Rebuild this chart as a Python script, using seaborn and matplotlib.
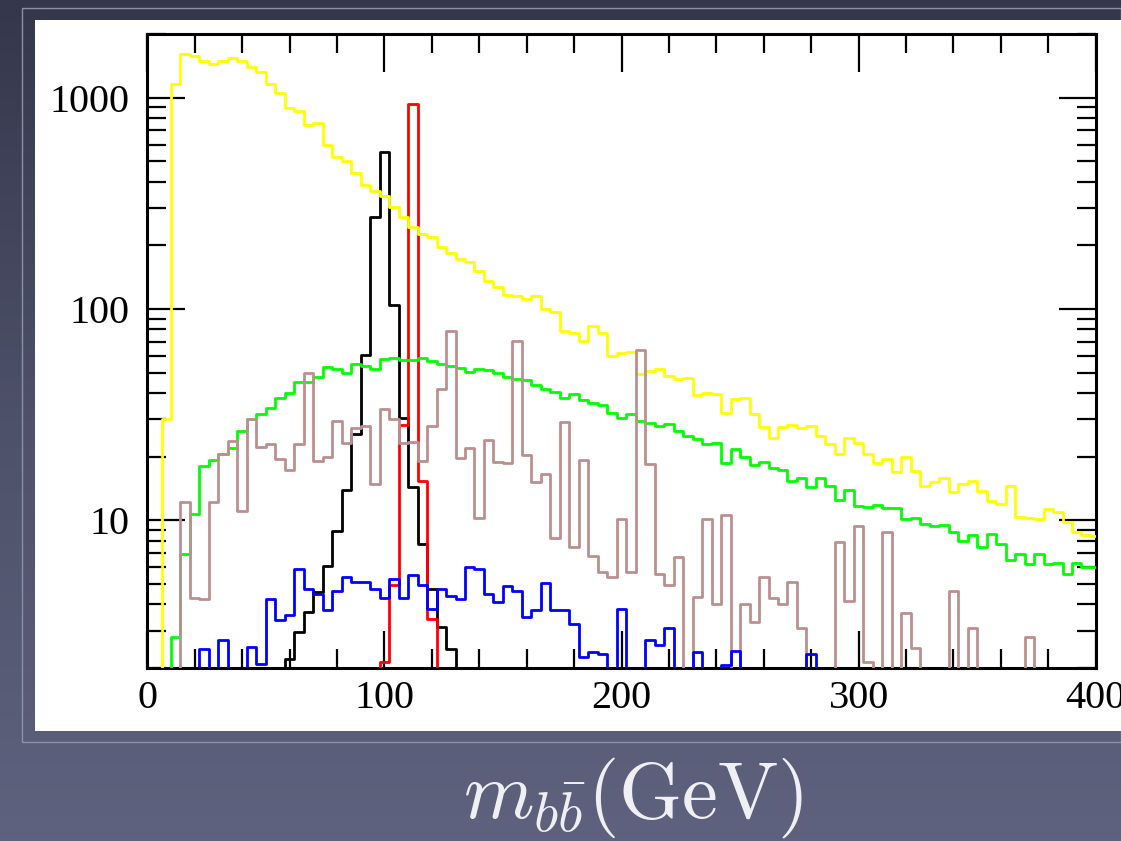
import numpy as np
import matplotlib
matplotlib.use("Agg")
import matplotlib.pyplot as plt
import seaborn as sns
from matplotlib.colors import LinearSegmentedColormap
from matplotlib.patches import Rectangle
from matplotlib.ticker import FixedLocator, MultipleLocator, LogLocator, FuncFormatter, NullFormatter

# ---------------- data (bin centres in GeV, bin width 4 GeV) ----------------
mass_centers = np.arange(0, 401, 4)

yellow_counts = [
    0, 0, 30, 1160, 1600, 1580, 1490, 1450, 1490, 1545,
    1490, 1390, 1320, 1160, 1050, 897, 865, 745, 758, 595,
    525, 502, 438, 386, 363, 343, 304, 272, 245, 227,
    220, 197, 184, 172, 166, 152, 136, 127, 116, 115,
    111, 115, 99.5, 96.4, 78.3, 77, 70.3, 82.8, 76.8, 59.7,
    62, 62.5, 49, 50.8, 51.8, 48.4, 46.4, 47.2, 39, 40.1,
    39.4, 32.1, 37.3, 38, 31.7, 27.7, 24.6, 27.5, 28.2, 27.2,
    27.9, 25, 22.9, 20.5, 24.4, 23.2, 20.5, 18.6, 19.5, 16.9,
    20, 17.1, 14.6, 15.2, 15.8, 13.6, 14.8, 15.4, 13.8, 12.4,
    11.9, 14.5, 10.4, 10.3, 10.1, 11.3, 11, 9.8, 8.8, 8.5,
    8.4]

green_counts = [
    0, 0, 0, 2.8, 6.9, 10.7, 18.1, 19.2, 20.5, 22.1,
    26.5, 30.3, 31.7, 34.1, 38, 40.1, 45.1, 45, 47.5, 53.2,
    52, 49.9, 55.1, 53.6, 51.9, 58.1, 58.3, 57.2, 57.6, 58.5,
    56.6, 54.6, 53.6, 52.7, 50.2, 51.9, 51.3, 49.5, 47.8, 46.4,
    46, 43.9, 41.6, 40.4, 38, 39.8, 37.1, 36, 35, 32.1,
    30.6, 31.8, 29.5, 29, 27.9, 28.5, 26.5, 25.1, 24.2, 22.9,
    23.2, 18.6, 21.7, 20, 18.3, 18.8, 17.6, 17.3, 15.4, 15.8,
    14.4, 15.8, 14.5, 12.5, 13.9, 11.7, 11.5, 11.8, 11.4, 11.4,
    10.1, 10.2, 9.6, 9.4, 9.5, 8.8, 8.0, 8.5, 7.5, 8.6,
    7.7, 6.5, 6.9, 6.2, 6.9, 6.2, 6.3, 5.6, 6.3, 6.0,
    6.0]

brown_counts = [
    0, 0, 0, 0, 12.2, 4.28, 4.22, 12.2, 20.5, 23.7,
    11.1, 30, 22.3, 22.9, 19.5, 17.3, 22.9, 49.5, 19.1, 20,
    29.5, 23.2, 27.2, 27.9, 14.8, 33.6, 30, 23.2, 23.5, 19.1,
    27.9, 42, 78.3, 19.8, 21.9, 10.3, 24, 18.8, 18.6, 70.3,
    20.3, 15.2, 16.5, 8.2, 29.2, 7.5, 19.3, 6.8, 5.7, 5.4,
    10.1, 5.7, 63.8, 18.4, 5.6, 4.92, 6.7, 0, 4.34, 10.1,
    4.03, 10.6, 0, 4.03, 3.3, 5.4, 4.3, 4.03, 5.13, 3.1,
    0, 0, 0, 7.9, 4.13, 9.4, 2.14, 0, 8.8, 0,
    3.66, 2.49, 0, 0, 0, 4.65, 0, 3.1, 0, 0,
    0, 0, 0, 2.8, 0, 0, 0, 0, 0, 0,
    0]

black_counts = (
    [0] * 15
    + [2.2, 2.96, 3.68, 4.6, 6.1, 8.9, 13.9, 25.5, 60.8, 273,
       554, 104, 30.6, 14.3, 7.7, 4.74, 3.13, 2.47]
    + [0] * 68)

red_counts = (
    [0] * 25
    + [2.14, 4.92, 28.2, 929, 15.4, 3.42]
    + [0] * 70)

blue_counts = (
    [0] * 6
    + [2.47, 0, 2.7, 0, 0, 2.52, 2.1, 4.25, 3.36, 3.57,
       5.85, 4.71, 4.49, 3.78, 4.65, 5.38, 5.13, 5.13, 4.71, 4.3,
       5.28, 4.3, 5.48, 4.96, 3.82, 4.71, 4.4, 4.25, 6.0, 5.9,
       4.49, 4.1, 4.89, 4.65, 3.49, 3.75, 5.06, 3.75, 3.75, 3.24,
       2.26, 2.38, 2.32, 0, 3.82, 0, 0, 2.7, 2.56, 3.1,
       0, 0, 2.38, 0, 0, 2.07, 2.41, 0, 0, 0]
    + [0, 0, 0, 0, 2.34]
    + [0] * 30)

x_ticks = [0, 100, 200, 300, 400]
x_label = r"$m_{b\bar{b}}(\mathrm{GeV})$"

# ---------------- figure ----------------
sns.set_style("ticks")
plt.rcParams["font.family"] = ["Liberation Serif", "DejaVu Serif"]
plt.rcParams["mathtext.fontset"] = "cm"

W, H = 1121, 841
fig = plt.figure(figsize=(W / 100, H / 100), dpi=100)

# slide background gradient
bg = fig.add_axes([0, 0, 1, 1], zorder=-10)
grad = np.linspace(0, 1, 256)[:, None]
cmap = LinearSegmentedColormap.from_list("bg", ["#35374c", "#4d5169", "#5e627e"])
bg.imshow(grad, aspect="auto", cmap=cmap, extent=[0, 1, 0, 1])
bg.axis("off")

# white panel + faint frame
fig.add_artist(Rectangle((22 / W, (H - 742) / H), (W - 22) / W, (742 - 8) / H,
                         transform=fig.transFigure, facecolor="none",
                         edgecolor="#8c90a8", lw=1.0, zorder=-6))
fig.add_artist(Rectangle((35 / W, (H - 731) / H), (W - 35) / W, (731 - 20) / H,
                         transform=fig.transFigure, facecolor="white",
                         edgecolor="none", zorder=-5))

ax = fig.add_axes([147.3 / W, (H - 668) / H, (1095.7 - 147.3) / W, (668 - 34) / H])
ax.set_facecolor("white")

FLOOR = 1e-2  # empty bins drawn below the visible range
series = [
    (black_counts, "black", 3),
    (red_counts, "#ff0000", 4),
    (yellow_counts, "#ffff00", 5),
    (green_counts, "#00ff00", 6),
    (brown_counts, "#bc8f8f", 7),
    (blue_counts, "#0000ff", 8),
]
for counts, col, z in series:
    vals = np.asarray(counts, dtype=float)
    vals = np.where(vals > 0, vals, FLOOR)
    sns.lineplot(x=mass_centers, y=vals, ax=ax, color=col, lw=2.0,
                 drawstyle="steps-mid", estimator=None, sort=False, zorder=z)

ax.set_yscale("log")
ax.set_xlim(0, 400)
ax.set_ylim(2, 2000)

ax.xaxis.set_major_locator(FixedLocator(x_ticks))
ax.xaxis.set_minor_locator(MultipleLocator(20))
ax.yaxis.set_major_locator(LogLocator(base=10))
ax.yaxis.set_minor_locator(LogLocator(base=10, subs=np.arange(2, 10)))
ax.yaxis.set_major_formatter(FuncFormatter(lambda v, p: f"{v:g}"))
ax.yaxis.set_minor_formatter(NullFormatter())

ax.tick_params(which="both", direction="in", top=True, right=True,
               color="black", labelsize=29, labelcolor="black")
ax.tick_params(which="major", length=27, width=1.6)
ax.tick_params(which="minor", length=14, width=1.6)
ax.tick_params(axis="y", which="major", pad=13)
ax.tick_params(axis="x", which="major", pad=9)
for sp in ax.spines.values():
    sp.set_linewidth(2.2)
    sp.set_color("black")
    sp.set_visible(True)
ax.set_xlabel("")
ax.set_ylabel("")
for lab in ax.get_xticklabels():
    lab.set_clip_on(False)

fig.text(633 / W, 0.052, x_label, fontsize=58, color="#f0f0f4",
         ha="center", va="center")

fig.savefig("out.png", dpi=100)
